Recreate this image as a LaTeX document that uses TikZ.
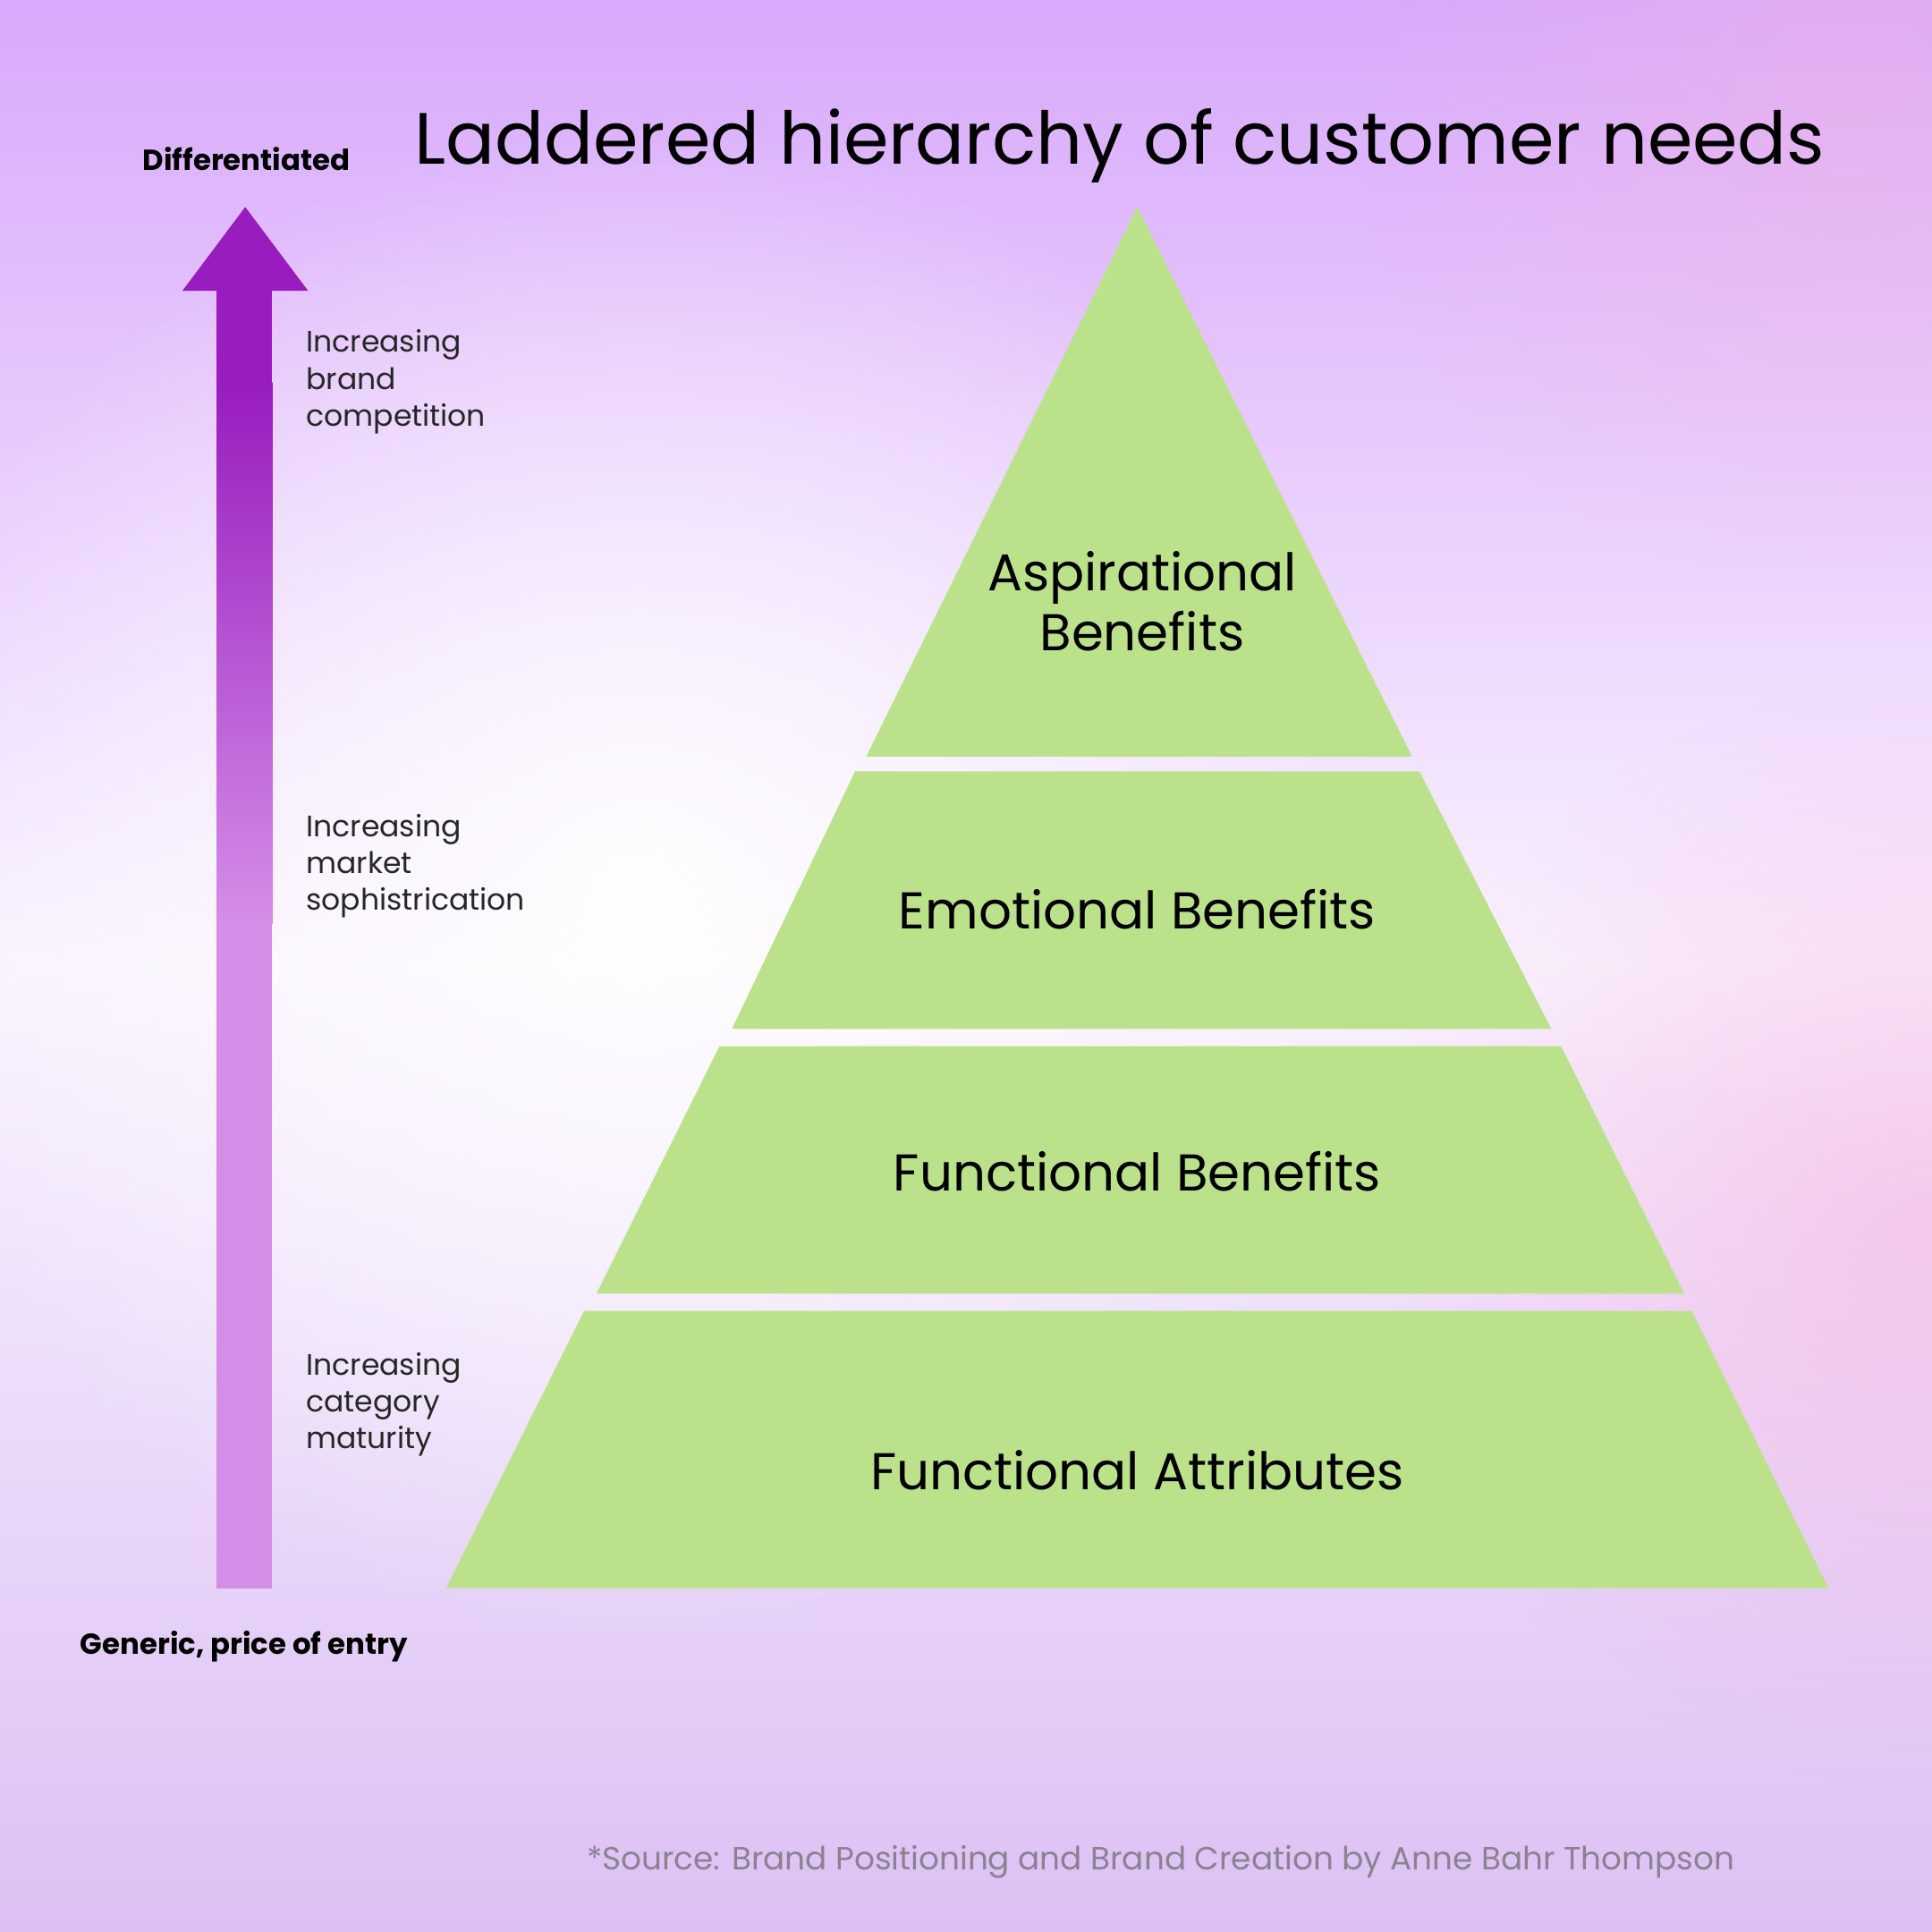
\documentclass[tikz,border=0pt]{standalone}
\usepackage{fontspec}
\setmainfont{Poppins}
\usetikzlibrary{fadings}
\tikzfading[name=myfade,inner color=transparent!0,outer color=transparent!100]
\definecolor{bgtop}{HTML}{D8A9FB}
\definecolor{bgbot}{HTML}{DCC0F4}
\definecolor{tier}{HTML}{BBE28B}
\definecolor{arrdark}{HTML}{981CBE}
\definecolor{arrlight}{HTML}{D58EE8}
\definecolor{srcgray}{HTML}{8A8290}
\tikzset{
  tierbox/.style={fill=tier,draw=none},
  tierlabel/.style={font=\fontsize{42}{48}\selectfont,align=center,text=black},
  sidelabel/.style={font=\fontsize{24}{30}\selectfont,align=left,anchor=north west,text=black!85},
  endlabel/.style={font=\fontsize{23.5}{28}\selectfont\bfseries,text=black}
}
\begin{document}
\begin{tikzpicture}[x=1pt,y=-1pt]
\useasboundingbox (0,0) rectangle (1568,1568);
\shade[top color=bgtop,bottom color=bgbot,middle color=white!85!bgtop] (0,0) rectangle (1568,1568);
\fill[magenta!35,path fading=myfade,opacity=0.45] (1560,1000) circle (450);
\fill[magenta!30,path fading=myfade,opacity=0.35] (1500,80) circle (400);
\fill[white,path fading=myfade,opacity=0.9] (520,720) circle (620);
% pyramid
\fill[tierbox] (923,168) -- (1146,614) -- (703,614) -- cycle;
\fill[tierbox] (694,626) -- (1152,626) -- (1259,835) -- (594,835) -- cycle;
\fill[tierbox] (584,849) -- (1267,849) -- (1367,1050) -- (484,1050) -- cycle;
\fill[tierbox] (474,1064) -- (1373,1064) -- (1484,1289) -- (362,1289) -- cycle;
\node[tierlabel] (asp) at (927,488) {Aspirational\\Benefits};
\node[tierlabel] (emo) at (923,738) {Emotional Benefits};
\node[tierlabel] (fb) at (923,951) {Functional Benefits};
\node[tierlabel] (fa) at (923,1193) {Functional Attributes};
% arrow
\fill[arrlight] (176,740) rectangle (221,1289);
\fill[arrdark] (176,230) rectangle (221,320);
\shade[top color=arrdark,bottom color=arrlight] (176,310) rectangle (221,750);
\fill[arrdark] (148,236) -- (199,168) -- (250,236) -- cycle;
\node[endlabel] (top) at (200,129) {Differentiated};
\node[endlabel] (bot) at (198,1336) {Generic, price of entry};
\node[sidelabel] (l1) at (245,264) {Increasing\\brand\\competition};
\node[sidelabel] (l2) at (245,657) {Increasing\\market\\sophistrication};
\node[sidelabel] (l3) at (245,1094) {Increasing\\category\\maturity};
\node[font=\fontsize{59}{64}\selectfont,anchor=west] (title) at (333,118) {Laddered hierarchy of customer needs};
\node[font=\fontsize{26}{30}\selectfont,text=srcgray] (src) at (942,1511) {*Source: Brand Positioning and Brand Creation by Anne Bahr Thompson};
\end{tikzpicture}
\end{document}
